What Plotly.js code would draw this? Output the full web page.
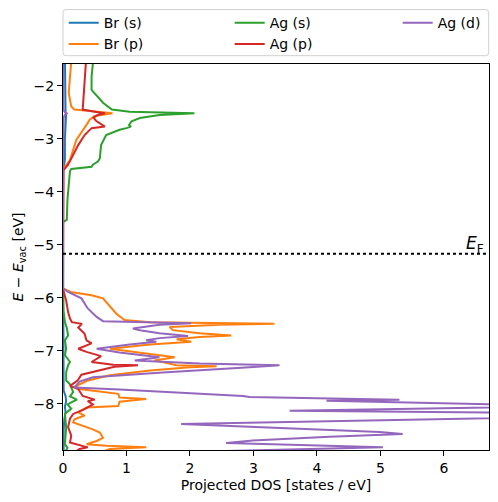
<!DOCTYPE html>
<html>
<head>
<meta charset="utf-8">
<script src="https://cdn.plot.ly/plotly-3.0.1.min.js"></script>
<style>html,body{margin:0;padding:0;background:#fff;}#plot{width:498px;height:502px;}</style>
</head>
<body>
<div id="plot"></div>
<script>
// Energies (eV, relative to vacuum) and projected DOS (states / eV)
const brS_E   = [-1.4, -2.0, -2.5, -2.52, -3.0, -3.4, -3.6, -4.6, -5.8, -7.0, -7.75, -7.85, -7.95, -8.05, -8.15, -8.3, -8.5, -8.8, -9.0];
const brS_dos = [0.03, 0.03, 0.04, 0.05, 0.03, 0.03, 0.0, 0.0, 0.0, 0.01, 0.01, 0.04, 0.05, 0.03, 0.04, 0.02, 0.01, 0.01, 0.01];

const brP_E   = [-1.4, -1.59, -1.83, -2.13, -2.39, -2.45, -2.48, -2.52, -2.57, -2.64, -2.70, -2.80, -3.02, -3.21, -3.40, -3.53, -3.59, -4.6,
                 -5.82, -5.89, -5.95, -6.01, -6.17, -6.30, -6.42, -6.46, -6.49, -6.51, -6.55, -6.61, -6.67, -6.71, -6.74, -6.78, -6.83, -6.88,
                 -6.96, -7.03, -7.12, -7.18, -7.24, -7.27, -7.29, -7.31, -7.37, -7.46, -7.56, -7.66, -7.72, -7.78, -7.81, -7.88, -7.91, -7.96,
                 -8.04, -8.07, -8.16, -8.22, -8.29, -8.35, -8.41, -8.48, -8.54, -8.64, -8.70, -8.76, -8.79, -8.82, -8.85, -8.92];
const brP_dos = [0.14, 0.13, 0.11, 0.09, 0.13, 0.18, 0.47, 0.78, 0.50, 0.42, 0.39, 0.33, 0.21, 0.16, 0.11, 0.03, 0.0, 0.0,
                 0.0, 0.12, 0.45, 0.63, 0.74, 0.84, 0.97, 1.37, 3.33, 2.47, 1.68, 1.73, 2.15, 2.65, 2.15, 1.79, 2.02, 1.37,
                 0.74, 1.21, 1.76, 1.44, 1.68, 1.79, 2.42, 2.0, 1.37, 0.74, 0.39, 0.21, 0.26, 0.74, 0.87, 0.89, 1.31, 0.89,
                 0.87, 0.37, 0.24, 0.34, 0.18, 0.16, 0.31, 0.47, 0.58, 0.63, 0.53, 0.37, 0.68, 1.31, 0.74, 0.58];

const agS_E   = [-1.4, -1.59, -1.83, -2.08, -2.32, -2.45, -2.49, -2.52, -2.55, -2.61, -2.67, -2.74, -2.77, -2.80, -2.83, -2.93, -3.12, -3.37,
                 -3.43, -3.49, -3.53, -3.57, -3.61, -4.15, -4.53, -4.57,
                 -5.82, -6.23, -6.45, -6.57, -6.71, -6.80, -6.96, -7.08, -7.21, -7.27, -7.40, -7.56, -7.63, -7.78, -7.86, -7.92, -7.97,
                 -8.01, -8.09, -8.19, -8.44, -8.76, -8.83, -8.92];
const agS_dos = [0.50, 0.47, 0.45, 0.45, 0.63, 0.77, 1.05, 2.07, 1.52, 1.21, 1.08, 1.04, 1.07, 1.00, 0.89, 0.68, 0.60, 0.58,
                 0.55, 0.47, 0.45, 0.13, 0.11, 0.07, 0.06, 0.0,
                 0.0, 0.005, 0.03, 0.06, 0.08, 0.03, 0.05, 0.03, 0.11, 0.08, 0.05, 0.05, 0.11, 0.16, 0.11, 0.22, 0.13,
                 0.07, 0.13, 0.03, 0.05, 0.03, 0.07, 0.03];

const agP_E   = [-1.4, -1.59, -2.13, -2.45, -2.49, -2.52, -2.55, -2.60, -2.66, -2.72, -2.77, -2.80, -2.93, -3.12, -3.30, -3.49, -3.59, -4.5, -4.6,
                 -5.84, -6.05, -6.27, -6.39, -6.46, -6.49, -6.50, -6.56, -6.68, -6.80, -6.86, -6.96, -7.02, -7.10, -7.21, -7.26, -7.27, -7.30,
                 -7.36, -7.45, -7.56, -7.66, -7.72, -7.85, -7.92, -7.95, -8.01, -8.10, -8.19, -8.28, -8.44, -8.60, -8.73, -8.82, -8.85, -8.92];
const agP_dos = [0.37, 0.36, 0.33, 0.31, 0.50, 0.66, 0.55, 0.48, 0.52, 0.59, 0.66, 0.45, 0.34, 0.24, 0.16, 0.08, 0.01, 0.01, 0.0,
                 0.0, 0.05, 0.08, 0.11, 0.14, 0.29, 0.29, 0.24, 0.34, 0.37, 0.45, 0.24, 0.37, 0.60, 0.45, 0.79, 1.18, 0.81,
                 0.58, 0.29, 0.23, 0.11, 0.24, 0.31, 0.50, 0.39, 0.47, 0.34, 0.16, 0.11, 0.08, 0.13, 0.11, 0.39, 0.26, 0.18];

const agD_E   = [-1.4, -2.45, -2.50, -2.52, -2.55, -2.6, -3.6, -4.6,
                 -5.82, -5.89, -6.01, -6.20, -6.36, -6.44, -6.48, -6.51, -6.58, -6.61, -6.67, -6.72, -6.76, -6.80, -6.83, -6.88, -6.96,
                 -7.03, -7.12, -7.18, -7.24, -7.27, -7.31, -7.41, -7.50, -7.58, -7.69, -7.73, -7.80, -7.85, -7.87, -7.92, -7.94, -8.04,
                 -8.13, -8.20, -8.38, -8.53, -8.57, -8.62, -8.69, -8.74, -8.82, -8.95];
const agD_dos = [0.005, 0.005, 0.03, 0.06, 0.03, 0.01, 0.0, 0.0,
                 0.0, 0.08, 0.29, 0.39, 0.53, 0.63, 2.02, 1.52, 1.10, 1.21, 1.52, 1.97, 1.52, 1.31, 1.47, 1.05, 0.53,
                 0.89, 1.52, 1.13, 2.15, 3.41, 2.94, 1.57, 0.47, 0.26, 0.18, 0.89, 2.15, 2.83, 2.94, 5.30, 4.15, 8.0,
                 3.57, 10.0, 1.86, 4.99, 5.35, 4.20, 2.99, 2.57, 5.04, 0.35];

const fermiLevel = -5.17;
const labels = ['Br (s)', 'Br (p)', 'Ag (s)', 'Ag (p)', 'Ag (d)'];
const colors = ['#1f77b4', '#ff7f0e', '#2ca02c', '#d62728', '#9467bd'];
const legendColumn = ['legend', 'legend', 'legend2', 'legend2', 'legend3'];
const series = [[brS_dos, brS_E], [brP_dos, brP_E], [agS_dos, agS_E], [agP_dos, agP_E], [agD_dos, agD_E]];

const FONT = 'DejaVu Sans, sans-serif';
const traces = series.map((s, i) => ({
  x: s[0], y: s[1], type: 'scatter', mode: 'lines', name: labels[i],
  line: {color: colors[i], width: 2}, legend: legendColumn[i]
}));

// plot area in px: left 63.3, width 426, top 64.3, height 385.2
const PW = 426, PH = 385.2;
const px2x = p => (p - 63.3) / PW;
const py2y = p => 1 + (64.3 - p) / PH;
function legendCol(leftPx) {
  return {
    orientation: 'v', x: px2x(leftPx), xanchor: 'left', y: py2y(7.5), yanchor: 'top',
    bgcolor: 'rgba(0,0,0,0)', borderwidth: 0, tracegroupgap: 0,
    font: {family: FONT, size: 14, color: '#000'}
  };
}
// rounded legend frame
const bx0 = px2x(63.3), bx1 = px2x(489), by0 = py2y(56), by1 = py2y(10);
const rx = 3 / PW, ry = 3 / PH;
const framePath = `M ${bx0 + rx} ${by1} L ${bx1 - rx} ${by1} Q ${bx1} ${by1} ${bx1} ${by1 - ry} ` +
  `L ${bx1} ${by0 + ry} Q ${bx1} ${by0} ${bx1 - rx} ${by0} L ${bx0 + rx} ${by0} Q ${bx0} ${by0} ${bx0} ${by0 + ry} ` +
  `L ${bx0} ${by1 - ry} Q ${bx0} ${by1} ${bx0 + rx} ${by1} Z`;

const layout = {
  width: 498, height: 502,
  margin: {l: 63, r: 9, t: 64, b: 52, pad: 0, autoexpand: false},
  paper_bgcolor: '#ffffff', plot_bgcolor: '#ffffff',
  font: {family: FONT, size: 14, color: '#000'},
  showlegend: true,
  legend: legendCol(64),
  legend2: legendCol(230),
  legend3: legendCol(398),
  xaxis: {
    range: [0, 6.71], dtick: 1, tick0: 0,
    showline: true, mirror: true, linecolor: '#000', linewidth: 1,
    ticks: 'outside', ticklen: 5, tickwidth: 1, tickcolor: '#000',
    showgrid: false, zeroline: false,
    tickfont: {family: FONT, size: 14},
    title: {text: 'Projected DOS [states / eV]', font: {family: FONT, size: 14}, standoff: 5}
  },
  yaxis: {
    range: [-8.87, -1.59], dtick: 1, tick0: 0,
    showline: true, mirror: true, linecolor: '#000', linewidth: 1,
    ticks: 'outside', ticklen: 5, tickwidth: 1, tickcolor: '#000',
    showgrid: false, zeroline: false,
    tickfont: {family: FONT, size: 14},
    title: {text: '<i>E</i> − <i>E</i><sub>vac</sub> [eV]', font: {family: FONT, size: 14}, standoff: 6}
  },
  shapes: [
    {type: 'line', xref: 'paper', x0: 0, x1: 1, yref: 'y', y0: fermiLevel, y1: fermiLevel,
     line: {color: '#000', width: 2, dash: 'dot'}},
    {type: 'path', xref: 'paper', yref: 'paper', path: framePath,
     line: {color: '#d0d0d0', width: 1}, fillcolor: 'rgba(255,255,255,0.8)', layer: 'below'}
  ],
  annotations: [{
    xref: 'paper', x: 1, xanchor: 'right', xshift: -3, yref: 'y', y: fermiLevel, yanchor: 'bottom', yshift: -4,
    text: '<i>E</i><sub>F</sub>', showarrow: false, font: {family: FONT, size: 17, color: '#000'}
  }]
};

Plotly.newPlot('plot', traces, layout, {displayModeBar: false, staticPlot: true});
</script>
</body>
</html>
